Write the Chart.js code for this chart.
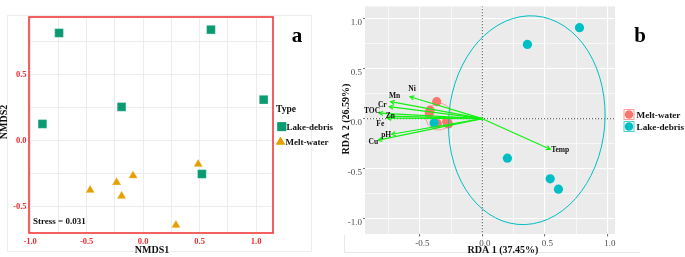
<!DOCTYPE html>
<html><head><meta charset="utf-8">
<script src="https://cdn.jsdelivr.net/npm/chart.js@4.4.1/dist/chart.umd.min.js"></script>
<style>
html,body{margin:0;padding:0;background:#fff;width:685px;height:257px;overflow:hidden}
canvas{position:absolute;top:0}
</style></head><body>
<canvas id="ca" width="340" height="257" style="left:0"></canvas>
<canvas id="cb" width="345" height="257" style="left:340px"></canvas>
<script>
// ---------- Panel a: NMDS ----------
const nmdsLakeX = [-0.744, 0.600, 1.066, -0.191, -0.891, 0.520];
const nmdsLakeY = [0.812, 0.837, 0.307, 0.252, 0.123, -0.256];
const nmdsMeltX = [-0.469, -0.235, -0.191, -0.089, 0.487, 0.290];
const nmdsMeltY = [-0.378, -0.320, -0.423, -0.269, -0.181, -0.643];
const nmdsXGrid = [-1, -0.75, -0.5, -0.25, 0, 0.25, 0.5, 0.75, 1];
const nmdsYGrid = [-0.5, -0.25, 0, 0.25, 0.5, 0.75];
const nmdsXTickVals = [-1, -0.5, 0, 0.5, 1];
const nmdsXTickLabels = ['-1.0', '-0.5', '0.0', '0.5', '1.0'];
const nmdsYTickVals = [-0.5, 0, 0.5];
const nmdsYTickLabels = ['-0.5', '0.0', '0.5'];
const nmdsStress = 'Stress = 0.031';

// ---------- Panel b: RDA ----------
const rdaLakeX = [0.776, 0.360, 0.200, 0.542, 0.608, -0.386];
const rdaLakeY = [0.908, 0.741, -0.394, -0.600, -0.703, -0.043];
const rdaMeltX = [-0.365, -0.424, -0.272, -0.360, -0.418, -0.285];
const rdaMeltY = [0.170, 0.055, -0.053, -0.050, 0.085, -0.030];
const envNames = ['Ni', 'Mn', 'Cr', 'TOC', 'Zn', 'Fe', 'pH', 'Cu', 'Temp'];
const envX = [-0.578, -0.733, -0.744, -0.826, -0.744, -0.760, -0.725, -0.832, 0.542];
const envY = [0.219, 0.170, 0.121, 0.055, 0.025, 0.005, -0.155, -0.214, -0.305];
const rdaXGrid = [-0.75, -0.5, -0.25, 0, 0.25, 0.5, 0.75, 1];
const rdaYGrid = [-1, -0.75, -0.5, -0.25, 0, 0.25, 0.5, 0.75, 1];
const rdaXTickVals = [-0.5, 0, 0.5, 1];
const rdaXTickLabels = ['-0.5', '0.0', '0.5', '1.0'];
const rdaYTickVals = [-1, -0.5, 0, 0.5, 1];
const rdaYTickLabels = ['-1.0', '-0.5', '0.0', '0.5', '1.0'];
const axis1Title = 'RDA 1 (37.45%)';
const axis2Title = 'RDA 2 (26.59%)';
// confidence ellipses (centre, semi-axes in data units, tilt)
const lakeEllipse = {cx: 0.355, cy: -0.015, rx: 0.624, ry: 1.043, rot: 0.085};
const meltEllipse = {cx: -0.346, cy: 0.020, rx: 0.105, ry: 0.135, rot: 0.6};

const SERIF = "'Liberation Serif', 'Times New Roman', serif";
const C_LAKE_A = '#0b9b73', C_MELT_A = '#e69f00';
const C_LAKE_B = '#00bfc4', C_MELT_B = '#f8766d';
const GREEN = '#12f012';

function pts(xs, ys) { return xs.map((x, i) => ({x: x, y: ys[i]})); }
function labelFor(vals, labels) {
  return function (v) { const k = vals.findIndex(t => Math.abs(t - v) < 1e-9); return k >= 0 ? labels[k] : ''; };
}
function isIn(vals, v) { return vals.some(t => Math.abs(t - v) < 1e-9); }

// ================= Chart a =================
const plugA = {
  id: 'plugA',
  beforeDraw(chart) {
    const ctx = chart.ctx;
    ctx.save();
    ctx.strokeStyle = '#eeeeee'; ctx.lineWidth = 1;
    ctx.strokeRect(7.5, 15.5, 304, 236);
    ctx.restore();
  },
  beforeDatasetsDraw(chart) {
    const a = chart.chartArea, ctx = chart.ctx;
    ctx.save();
    ctx.strokeStyle = '#f02c2c'; ctx.lineWidth = 1.5;
    ctx.strokeRect(a.left, a.top, a.right - a.left, a.bottom - a.top);
    ctx.restore();
  },
  afterDraw(chart) {
    const ctx = chart.ctx;
    ctx.save();
    ctx.fillStyle = '#111';
    ctx.textBaseline = 'middle';
    ctx.font = 'bold 10px ' + SERIF;
    ctx.textAlign = 'center';
    ctx.fillText('NMDS1', 152, 250.5);
    ctx.save(); ctx.translate(4.5, 122); ctx.rotate(-Math.PI / 2);
    ctx.fillText('NMDS2', 0, 0); ctx.restore();
    ctx.font = 'bold 9px ' + SERIF; ctx.textAlign = 'left';
    ctx.fillText(nmdsStress, 33, 222);
    ctx.font = 'bold 21px ' + SERIF; ctx.textAlign = 'center';
    ctx.fillStyle = '#000';
    ctx.fillText('a', 297, 37);
    // legend
    ctx.font = 'bold 9.5px ' + SERIF; ctx.textAlign = 'left'; ctx.fillStyle = '#111';
    ctx.fillText('Type', 276, 109.5);
    ctx.font = 'bold 9px ' + SERIF;
    ctx.fillStyle = C_LAKE_A;
    Chart.helpers.drawPoint(ctx, {pointStyle: 'rect', radius: 6.2, borderWidth: 0}, 281.8, 126.7);
    ctx.fill();
    ctx.fillStyle = C_MELT_A;
    Chart.helpers.drawPoint(ctx, {pointStyle: 'triangle', radius: 5.2, borderWidth: 0}, 280.5, 142);
    ctx.fill();
    ctx.fillStyle = '#111';
    ctx.fillText('Lake-debris', 286.5, 127.5);
    ctx.fillText('Melt-water', 285.5, 142.5);
    ctx.restore();
  }
};

new Chart(document.getElementById('ca'), {
  type: 'scatter',
  data: {datasets: [
    {label: 'Lake-debris', data: pts(nmdsLakeX, nmdsLakeY), pointStyle: 'rect', pointRadius: 6.2,
      backgroundColor: C_LAKE_A, borderColor: 'rgba(255,255,255,0.5)', borderWidth: 0.6},
    {label: 'Melt-water', data: pts(nmdsMeltX, nmdsMeltY), pointStyle: 'triangle', pointRadius: 5.2,
      backgroundColor: C_MELT_A, borderColor: 'rgba(255,255,255,0.5)', borderWidth: 0.6}
  ]},
  options: {
    responsive: false, animation: false, events: [],
    layout: {padding: {left: 0, right: 67, top: 17, bottom: 0}},
    plugins: {legend: {display: false}, tooltip: {enabled: false}},
    scales: {
      x: {type: 'linear', min: -1.01, max: 1.149,
        afterBuildTicks: s => { s.ticks = nmdsXGrid.map(v => ({value: v})); },
        afterFit: s => { s.height = 24; },
        grid: {color: '#ececec', lineWidth: 1, drawTicks: false},
        border: {display: false},
        ticks: {autoSkip: false, maxRotation: 0, padding: 4, color: '#f02c2c',
          font: {family: SERIF, size: 8.5, weight: 'bold'},
          callback: labelFor(nmdsXTickVals, nmdsXTickLabels)}},
      y: {type: 'linear', min: -0.703, max: 0.933,
        afterBuildTicks: s => { s.ticks = nmdsYGrid.map(v => ({value: v})); },
        afterFit: s => { s.width = 29; },
        grid: {color: '#ececec', lineWidth: 1, drawTicks: false},
        border: {display: false},
        ticks: {autoSkip: false, padding: 2.5, color: '#f02c2c', labelOffset: 0.5,
          font: {family: SERIF, size: 8.5, weight: 'bold'},
          callback: labelFor(nmdsYTickVals, nmdsYTickLabels)}}
    }
  },
  plugins: [plugA]
});

// ================= Chart b =================
const envLabelStyle = {
  Ni: [2, -8, 'center'], Mn: [4, -6, 'center'], Cr: [-7, -2, 'center'], TOC: [-7, -2, 'center'],
  Zn: [1, -0.5, 'center'], Fe: [-7, 6, 'center'], pH: [-5.5, 0.5, 'center'], Cu: [-5, 1.5, 'center'],
  Temp: [1, 1, 'left']
};

function drawEllipse(chart, e, color, lw) {
  const xs = chart.scales.x, ys = chart.scales.y, ctx = chart.ctx;
  const cx = xs.getPixelForValue(e.cx), cy = ys.getPixelForValue(e.cy);
  const rx = xs.getPixelForValue(e.cx + e.rx) - cx;
  const ry = cy - ys.getPixelForValue(e.cy + e.ry);
  ctx.save();
  ctx.strokeStyle = color; ctx.lineWidth = lw;
  ctx.beginPath(); ctx.ellipse(cx, cy, rx, ry, e.rot, 0, Math.PI * 2); ctx.stroke();
  ctx.restore();
}

const plugB = {
  id: 'plugB',
  beforeDraw(chart) {
    const a = chart.chartArea, ctx = chart.ctx;
    ctx.save();
    ctx.fillStyle = '#ebebeb';
    ctx.fillRect(a.left, a.top, a.right - a.left, a.bottom - a.top);
    ctx.strokeStyle = '#e8e8e8'; ctx.lineWidth = 1;
    ctx.beginPath(); ctx.moveTo(4.5, 235); ctx.lineTo(4.5, 252.5); ctx.lineTo(300, 252.5); ctx.stroke();
    ctx.restore();
  },
  afterDatasetDraw(chart, args) {
    if (chart.data.datasets[args.index].label === 'Lake-debris') {
      const ctx = chart.ctx, a = chart.chartArea;
      ctx.save();
      ctx.beginPath(); ctx.rect(a.left, a.top, a.right - a.left, a.bottom - a.top); ctx.clip();
      drawEllipse(chart, meltEllipse, 'rgba(248,118,109,0.8)', 0.8);
      drawEllipse(chart, lakeEllipse, C_LAKE_B, 1);
      ctx.restore();
    }
  },
  afterDatasetsDraw(chart) {
    const xs = chart.scales.x, ys = chart.scales.y, ctx = chart.ctx;
    const ox = xs.getPixelForValue(0), oy = ys.getPixelForValue(0);
    ctx.save();
    envNames.forEach((n, i) => {
      const tx = xs.getPixelForValue(envX[i]), ty = ys.getPixelForValue(envY[i]);
      const ang = Math.atan2(ty - oy, tx - ox);
      const L = 4.5, w = 0.5;
      ctx.strokeStyle = GREEN; ctx.lineWidth = 1.2;
      ctx.beginPath();
      ctx.moveTo(tx - L * Math.cos(ang - w), ty - L * Math.sin(ang - w));
      ctx.lineTo(tx, ty);
      ctx.lineTo(tx - L * Math.cos(ang + w), ty - L * Math.sin(ang + w));
      ctx.stroke();
    });
    ctx.fillStyle = '#111';
    ctx.font = 'bold 7.5px ' + SERIF;
    ctx.textBaseline = 'middle';
    envNames.forEach((n, i) => {
      const tx = xs.getPixelForValue(envX[i]), ty = ys.getPixelForValue(envY[i]);
      const st = envLabelStyle[n];
      ctx.textAlign = st[2];
      ctx.fillText(n, tx + st[0], ty + st[1]);
    });
    ctx.restore();
  },
  afterDraw(chart) {
    const ctx = chart.ctx;
    ctx.save();
    ctx.fillStyle = '#111'; ctx.textBaseline = 'middle'; ctx.textAlign = 'center';
    ctx.font = 'bold 10px ' + SERIF;
    ctx.fillText(axis1Title, 163, 250.5);
    ctx.save(); ctx.translate(6.5, 119); ctx.rotate(-Math.PI / 2);
    ctx.fillText(axis2Title, 0, 0); ctx.restore();
    ctx.fillStyle = '#000';
    ctx.font = 'bold 21px ' + SERIF;
    ctx.fillText('b', 300, 37);
    // legend
    const keys = [[C_MELT_B, 'Melt-water', 114.5], [C_LAKE_B, 'Lake-debris', 126.5]];
    keys.forEach(k => {
      ctx.strokeStyle = k[0]; ctx.globalAlpha = 0.7; ctx.lineWidth = 1;
      ctx.strokeRect(284, k[2] - 5, 10, 10);
      ctx.globalAlpha = 1;
      ctx.fillStyle = k[0];
      ctx.beginPath(); ctx.arc(289, k[2], 4.3, 0, Math.PI * 2); ctx.fill();
      ctx.fillStyle = '#111'; ctx.textAlign = 'left';
      ctx.font = 'bold 9.2px ' + SERIF;
      ctx.fillText(k[1], 296.5, k[2] + 1.2);
    });
    ctx.restore();
  }
};

const rdaDatasets = [];
envNames.forEach((n, i) => {
  rdaDatasets.push({label: 'arrow-' + n, data: [{x: 0, y: 0}, {x: envX[i], y: envY[i]}], showLine: true,
    borderColor: GREEN, borderWidth: 1.2, pointRadius: 0, fill: false, order: 0});
});
rdaDatasets.push({label: 'Lake-debris', data: pts(rdaLakeX, rdaLakeY), pointRadius: 4.6,
  backgroundColor: C_LAKE_B, borderWidth: 0, order: 1});
rdaDatasets.push({label: 'Melt-water', data: pts(rdaMeltX, rdaMeltY), pointRadius: 4.6,
  backgroundColor: C_MELT_B, borderWidth: 0, order: 2});
rdaDatasets.push({label: 'zero-x', data: [{x: 0, y: -2}, {x: 0, y: 2}], showLine: true, pointRadius: 0,
  borderColor: '#333', borderWidth: 1, borderDash: [1, 2], order: 3});
rdaDatasets.push({label: 'zero-y', data: [{x: -2, y: 0}, {x: 2, y: 0}], showLine: true, pointRadius: 0,
  borderColor: '#333', borderWidth: 1, borderDash: [1, 2], order: 3});

new Chart(document.getElementById('cb'), {
  type: 'scatter',
  data: {datasets: rdaDatasets},
  options: {
    responsive: false, animation: false, events: [],
    layout: {padding: {left: 0, right: 70, top: 3, bottom: 0}},
    plugins: {legend: {display: false}, tooltip: {enabled: false}},
    scales: {
      x: {type: 'linear', min: -0.938, max: 1.06,
        afterBuildTicks: s => { s.ticks = rdaXGrid.map(v => ({value: v})); },
        afterFit: s => { s.height = 23; },
        grid: {color: '#ffffff', lineWidth: c => isIn(rdaXTickVals, c.tick.value) ? 1.1 : 0.6,
          drawTicks: true, tickLength: 2.5,
          tickColor: c => isIn(rdaXTickVals, c.tick.value) ? '#777' : 'rgba(0,0,0,0)'},
        border: {display: false},
        ticks: {autoSkip: false, maxRotation: 0, padding: 1.5, color: '#4d4d4d', labelOffset: 2.5,
          font: {family: SERIF, size: 9},
          callback: labelFor(rdaXTickVals, rdaXTickLabels)}},
      y: {type: 'linear', min: -1.15, max: 1.12,
        afterBuildTicks: s => { s.ticks = rdaYGrid.map(v => ({value: v})); },
        afterFit: s => { s.width = 25; },
        grid: {color: '#ffffff', lineWidth: c => isIn(rdaYTickVals, c.tick.value) ? 1.1 : 0.6,
          drawTicks: true, tickLength: 2,
          tickColor: c => isIn(rdaYTickVals, c.tick.value) ? '#777' : 'rgba(0,0,0,0)'},
        border: {display: false},
        ticks: {autoSkip: false, padding: 1, color: '#4d4d4d', labelOffset: 4,
          font: {family: SERIF, size: 9},
          callback: labelFor(rdaYTickVals, rdaYTickLabels)}}
    }
  },
  plugins: [plugB]
});
</script>
</body></html>
